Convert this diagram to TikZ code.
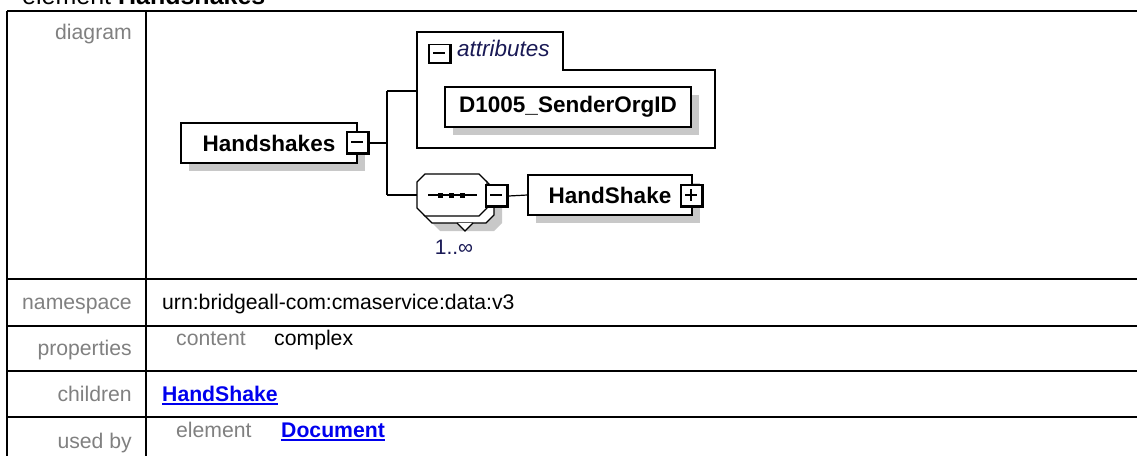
\documentclass[tikz,border=0pt]{standalone}
\usepackage{fontspec}
\setmainfont{Liberation Sans}
\usepackage{tikz}
\usetikzlibrary{positioning, shadows}
\definecolor{lblgray}{RGB}{128,128,128}
\definecolor{linkblue}{RGB}{0,0,238}
\definecolor{shgray}{RGB}{200,200,200}
\definecolor{navy}{RGB}{25,25,85}
% octagon of the sequence compositor: centre x, centre y, options
\newcommand{\seqshape}[3]{%
  \draw[#3] (#1-27,#2-21) -- (#1+27,#2-21) -- (#1+35,#2-13) -- (#1+35,#2+13)
    -- (#1+27,#2+21) -- (#1-27,#2+21) -- (#1-35,#2+13) -- (#1-35,#2-13) -- cycle;}

\begin{document}
\begin{tikzpicture}[
  x=1pt, y=-1pt,
  tabline/.style={line width=2.4pt},
  conn/.style={line width=1.2pt},
  lbl/.style={font=\fontsize{21.2}{25}\selectfont, text=lblgray, inner sep=0pt, anchor=base east},
  val/.style={font=\fontsize{21.2}{25}\selectfont, inner sep=0pt, anchor=base west},
  lnk/.style={val, font=\fontsize{21.2}{25}\selectfont\bfseries, text=linkblue},
  elem/.style={draw, line width=1.2pt, fill=white, minimum height=40pt, inner sep=0pt,
               font=\fontsize{22.5}{26}\selectfont\bfseries,
               drop shadow={shadow xshift=8pt, shadow yshift=-8pt, fill=shgray, opacity=1}},
  btn/.style={draw, line width=1.2pt, fill=white, minimum width=22pt, minimum height=22pt, inner sep=0pt,
              path picture={
                \draw[line width=4pt] (path picture bounding box.north east)
                  -- (path picture bounding box.south east) -- (path picture bounding box.south west);
                \draw[line width=1.2pt] ([xshift=4pt,yshift=1pt]path picture bounding box.west)
                  -- ([xshift=-6pt,yshift=1pt]path picture bounding box.east);}},
  plusbtn/.style={btn,
              path picture={
                \draw[line width=4pt] (path picture bounding box.north east)
                  -- (path picture bounding box.south east) -- (path picture bounding box.south west);
                \draw[line width=1.2pt] ([xshift=4pt,yshift=1pt]path picture bounding box.west)
                  -- ([xshift=-6pt,yshift=1pt]path picture bounding box.east);
                \draw[line width=1.2pt] ([xshift=-1pt,yshift=-4pt]path picture bounding box.north)
                  -- ([xshift=-1pt,yshift=6pt]path picture bounding box.south);}}
]
\useasboundingbox (0,0) rectangle (1137,455);
\clip (0,0) rectangle (1137,455);

% title and table
\node[anchor=base west, inner sep=0pt, font=\fontsize{25}{30}\selectfont] (title) at (22,5) {element \textbf{Handshakes}};
\draw[tabline] (7,11) -- (1145,11);
\draw[tabline] (7,11) -- (7,465);
\draw[tabline] (146,11) -- (146,465);
\foreach \y in {279,326,371,417}
  \draw[tabline] (7,\y) -- (1145,\y);

\node[lbl] (ldiag) at (132,39) {diagram};
\node[lbl] (lns) at (132,309) {namespace};
\node[val] (vns) at (162,309) {urn:bridgeall-com:cmaservice:data:v3};
\node[lbl] (lprop) at (132,355) {properties};
\node[val, text=lblgray] (kprop) at (176,345) {content};
\node[val] (vprop) at (274,345) {complex};
\node[lbl] (lchild) at (132,401) {children};
\node[lnk] (vchild) at (162,401) {HandShake};
\node[lbl] (lused) at (132,448) {used by};
\node[val, text=lblgray] (kused) at (176,437) {element};
\node[lnk] (vused) at (281,437) {Document};
\draw[linkblue, line width=1.8pt] ([yshift=-3pt]vchild.base west) -- ([yshift=-3pt]vchild.base east);
\draw[linkblue, line width=1.8pt] ([yshift=-3pt]vused.base west) -- ([yshift=-3pt]vused.base east);

% diagram
\node[elem, minimum width=176pt] (hs) at (269,143) {Handshakes};
\node[btn] (hsbtn) at (358,143) {};
\coordinate (fork) at (387,143);
\coordinate (forkup) at (387,91);
\coordinate (forkdn) at (387,195);
\coordinate (attrsin) at (417,91);

\draw[conn] (417,32) -- (563,32) -- (563,70) -- (715,70) -- (715,148) -- (417,148) -- cycle;
\node[btn, minimum height=19pt] (attbtn) at (440,54) {};
\node[anchor=base west, inner sep=0pt, font=\fontsize{22.5}{26}\selectfont\itshape, text=navy] (attlbl) at (457,56) {attributes};
\node[elem, minimum width=246pt] (sender) at (568,107) {D1005\_SenderOrgID};

\seqshape{467}{210}{fill=shgray, draw=none}
\seqshape{459}{202}{conn, fill=white}
\draw[conn, fill=white] (457,223) -- (465,231) -- (473,223);
\seqshape{452}{195}{conn, fill=white}
\node[minimum width=70pt, minimum height=42pt, inner sep=0pt] (seq) at (452,195) {};
\draw[conn] (428,195) -- (477,195);
\foreach \x in {440,451,462}
  \fill (\x-2.5,192.5) rectangle (\x+2.5,197.5);
\node[btn] (seqbtn) at (497,196) {};
\node[font=\fontsize{21}{25}\selectfont, text=navy, inner sep=0pt] (occ) at (454,247) {1..∞};

\node[elem, minimum width=164pt] (hsk) at (610,195) {HandShake};
\node[plusbtn] (hskbtn) at (692,196) {};

\draw[conn] (hsbtn.east) -- (fork);
\draw[conn] (forkup) -- (forkdn);
\draw[conn] (forkup) -- (attrsin);
\draw[conn] (forkdn) -- (seq.west);
\draw[conn] (seqbtn.east) -- (hsk.west);
\end{tikzpicture}
\end{document}
